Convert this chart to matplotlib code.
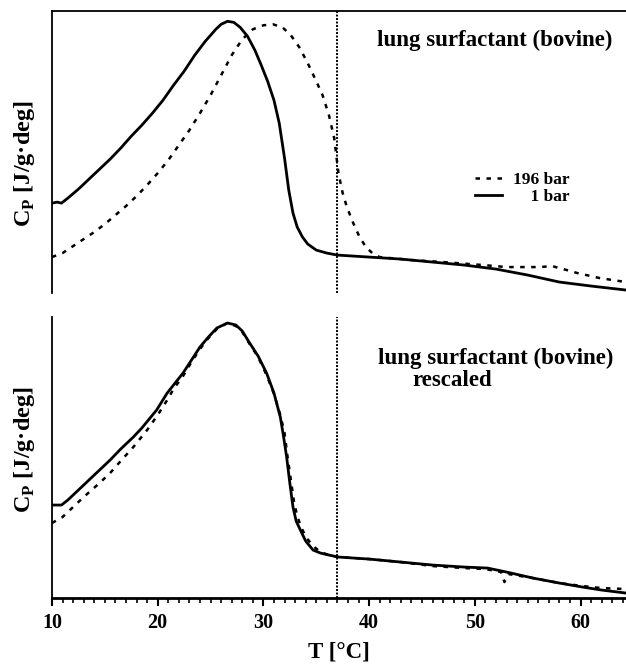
import matplotlib
matplotlib.use("Agg")
import matplotlib.pyplot as plt
from matplotlib.ticker import MultipleLocator

plt.rcParams["font.family"] = ["Liberation Serif", "DejaVu Serif"]
plt.rcParams["font.weight"] = "bold"
plt.rcParams["mathtext.fontset"] = "custom"
plt.rcParams["mathtext.rm"] = "Liberation Serif:bold"
plt.rcParams["mathtext.bf"] = "Liberation Serif:bold"

# --- données (Cp en unités arbitraires) ---
# panneau du haut : 1 bar (trait plein)
t_1bar = [10.0, 10.5, 10.9, 11.5, 12.5, 13.5, 14.5, 15.5, 16.5, 17.5, 18.5, 19.5,
          20.5, 21.5, 22.5, 23.5, 24.5, 25.5, 26.0, 26.6, 27.2, 27.8, 28.5, 29.2,
          29.8, 30.4, 31.0, 31.5, 32.0, 32.4, 32.8, 33.2, 33.7, 34.2, 35.0, 36.0,
          37.0, 40.0, 43.0, 46.0, 49.0, 52.0, 55.0, 58.0, 61.0, 64.3]
cp_1bar = [90, 91, 90, 95, 104, 114, 124, 134, 145, 157, 168, 180,
           193, 208, 222, 238, 252, 264, 269, 272, 271, 266, 257, 243,
           228, 212, 193, 170, 135, 103, 80, 66, 56, 49, 43, 40,
           38, 36, 34, 31, 28, 24, 18, 11, 7, 3]

# panneau du haut : 196 bar (tirets)
t_196bar = [10.0, 11.0, 12.0, 13.0, 14.0, 15.0, 16.0, 17.0, 18.0, 19.0, 20.0, 21.0,
            22.0, 23.0, 24.0, 25.0, 26.0, 27.0, 28.0, 29.0, 30.0, 30.9, 31.8, 32.6,
            33.4, 34.2, 35.0, 35.6, 36.2, 36.7, 37.1, 37.5, 37.9, 38.5, 39.1, 39.7,
            40.3, 41.0, 44.0, 47.0, 50.8, 53.0, 56.2, 57.3, 58.7, 59.7, 61.8, 64.3]
cp_196bar = [36, 40, 47, 54, 61, 69, 78, 87, 97, 108, 120, 133,
             148, 163, 180, 198, 218, 238, 254, 264, 268, 269, 266, 258,
             246, 230, 212, 198, 178, 155, 120, 100, 86, 70, 56, 46,
             40, 36, 33, 31, 28, 26, 26, 27, 23, 20, 15, 11]

# panneau du bas : 1 bar
t_1bar_b = [10.0, 10.9, 11.5, 12.5, 13.5, 14.5, 15.5, 16.5, 17.7, 18.5, 19.9, 20.9,
            21.5, 22.4, 23.2, 24.0, 24.8, 25.6, 26.6, 27.4, 28.0, 28.7, 29.5, 30.3,
            31.0, 31.6, 31.9, 32.2, 32.5, 32.8, 33.1, 33.5, 34.0, 34.7, 35.4, 36.2,
            37.1, 40.0, 43.0, 46.0, 49.0, 51.2, 53.0, 55.5, 58.0, 60.2, 62.0, 64.3]
cp_1bar_b = [93, 93, 98, 108, 118, 128, 138, 149, 161, 170, 188, 205,
             213, 225, 238, 251, 261, 270, 275, 273, 267, 255, 242, 225,
             205, 181, 162, 141, 115, 91, 77, 68, 57, 48, 45, 43,
             41, 39, 36, 33, 31, 30, 26, 20, 15, 11, 8, 5]

# panneau du bas : 196 bar remis à l'échelle
t_196bar_b = [10.0, 11.0, 12.0, 13.0, 14.5, 15.5, 16.5, 17.7, 19.0, 20.0, 20.9, 21.5,
              22.4, 23.2, 24.0, 24.8, 25.6, 26.6, 27.4, 28.0, 28.7, 29.5, 30.3, 31.0,
              31.6, 32.0, 32.3, 32.6, 32.9, 33.2, 33.6, 34.1, 34.7, 35.4, 36.2, 37.1,
              40.0, 43.0, 46.0, 49.0, 51.0, 52.5, 52.8, 53.2, 55.5, 58.0, 60.2, 62.0, 64.3]
cp_196bar_b = [75, 81, 91, 101, 115, 125, 137, 151, 168, 183, 198, 209,
               222, 236, 249, 260, 269, 275, 272, 266, 254, 241, 223, 204,
               183, 165, 140, 118, 96, 82, 70, 60, 52, 46, 43, 41,
               39, 36, 32, 30, 29, 26, 16, 24, 20, 15, 12, 10, 9]

T_CORPS = 37.0  # température corporelle (ligne pointillée)

fig = plt.figure(figsize=(6.26, 6.66), dpi=100)
ax1 = fig.add_axes([0.083, 0.560, 0.917, 0.423])
ax2 = fig.add_axes([0.083, 0.102, 0.917, 0.422])

dash = dict(color="black", lw=1.8, linestyle=(0, (1.8, 2.6)))
solid = dict(color="black", lw=2.0)
ylab = r"C$_\mathrm{P}$ [J/g·deg]"

# ── panneau du haut ──
ax1.plot(t_196bar, cp_196bar, label="196 bar", **dash)
ax1.plot(t_1bar, cp_1bar, label="    1 bar", **solid)
ax1.axvline(T_CORPS, color="black", lw=1.4, linestyle=(0, (1, 0.8)))
ax1.set_xlim(10, 64.3)
ax1.set_ylim(0, 282)
ax1.set_xticks([])
ax1.set_yticks([])
ax1.spines["right"].set_visible(False)
ax1.spines["bottom"].set_visible(False)
ax1.spines["top"].set_linewidth(1.3)
ax1.spines["left"].set_linewidth(1.3)
ax1.set_ylabel(ylab, fontsize=17.5, fontweight="bold")
ax1.yaxis.set_label_coords(-0.026, 0.46)
ax1.text(63.0, 253, "lung surfactant (bovine)", ha="right", va="center",
         fontsize=16.5, fontweight="bold")
ax1.legend(loc="center", bbox_to_anchor=(0.819, 0.372), frameon=False,
           handlelength=1.55, handletextpad=0.6, labelspacing=0.05,
           borderpad=0, prop={"weight": "bold", "size": 12.5})

# ── panneau du bas ──
ax2.plot(t_196bar_b, cp_196bar_b, **dash)
ax2.plot(t_1bar_b, cp_1bar_b, **solid)
ax2.axvline(T_CORPS, color="black", lw=1.4, linestyle=(0, (1, 0.8)))
ax2.set_xlim(10, 64.3)
ax2.set_ylim(0, 281)
ax2.set_yticks([])
ax2.xaxis.set_major_locator(MultipleLocator(10))
ax2.xaxis.set_minor_locator(MultipleLocator(1))
ax2.tick_params(axis="x", which="major", length=6, width=1.5, direction="out",
                labelsize=14.5, pad=5)
ax2.tick_params(axis="x", which="minor", length=3.5, width=1.2, direction="out")
for lab in ax2.get_xticklabels():
    lab.set_fontweight("bold")
ax2.spines["right"].set_visible(False)
ax2.spines["top"].set_visible(False)
ax2.spines["bottom"].set_linewidth(2.0)
ax2.spines["left"].set_linewidth(1.3)
ax2.set_ylabel(ylab, fontsize=17.5, fontweight="bold")
ax2.yaxis.set_label_coords(-0.026, 0.527)
ax2.set_xlabel("T [°C]", fontsize=16.5, fontweight="bold", labelpad=6)
ax2.text(63.1, 240, "lung surfactant (bovine)", ha="right", va="center",
         fontsize=16.5, fontweight="bold")
ax2.text(44.1, 218, "rescaled", ha="left", va="center", fontsize=16.5, fontweight="bold")

fig.savefig("out.png", dpi=100)
